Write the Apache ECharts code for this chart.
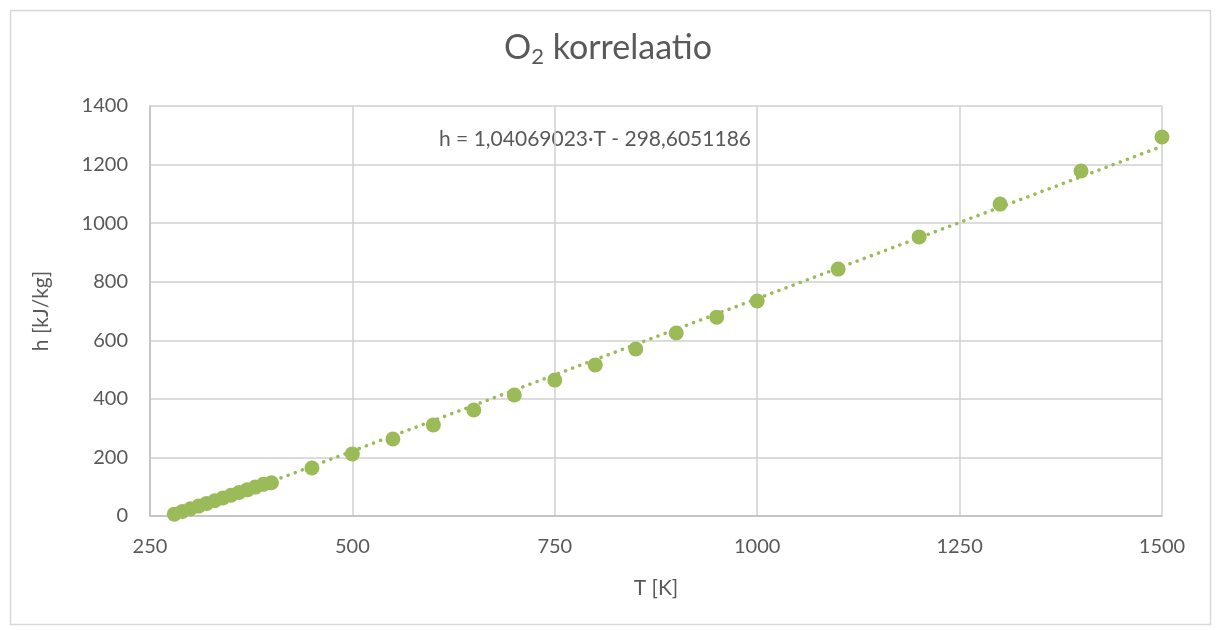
<!DOCTYPE html>
<html><head><meta charset="utf-8">
<script src="https://cdn.jsdelivr.net/npm/echarts@6/dist/echarts.min.js"></script>
<style>html,body{margin:0;padding:0;background:#fff}#c{width:1216px;height:630px}</style>
</head><body><div id="c"></div>
<script>
const temperatures = [280,290,300,310,320,330,340,350,360,370,380,390,400,450,500,550,600,650,700,750,800,850,900,950,1000,1100,1200,1300,1400,1500];
const enthalpies = [6.3,15.5,24.6,33.8,43.0,52.2,61.5,70.7,80.0,89.3,98.6,108.0,113.5,164,212,263,311,362,413,464,516,570,625,679,734,843,953,1065,1178,1294];
const trendSlope = 1.04069023;
const trendIntercept = -298.6051186;
const trendRange = [280, 1500];
const xTicks = [250, 500, 750, 1000, 1250, 1500];
const yTicks = [0, 200, 400, 600, 800, 1000, 1200, 1400];
const equationText = 'h = 1,04069023·T - 298,6051186';

const points = temperatures.map((t, i) => [t, enthalpies[i]]);
const trend = trendRange.map(t => [t, trendSlope * t + trendIntercept]);
const font = 'Lato, "Open Sans", sans-serif';
const chart = echarts.init(document.getElementById('c'));
chart.setOption({
  animation: false,
  graphic: [{
    type: 'rect', left: 8, top: 8, shape: {width: 1200, height: 614},
    style: {fill: 'none', stroke: '#d9d9d9', lineWidth: 1.5}, silent: true
  }, {
    type: 'text', left: 'center', top: 31,
    style: {
      text: '{a|O}{b|2}{a| korrelaatio}',
      rich: {
        a: {fontSize: 34, fill: '#595959', fontFamily: font},
        b: {fontSize: 22, fill: '#595959', fontFamily: font, padding: [18, 0, 0, 0]}
      }
    }
  }, {
    type: 'text', left: 439, top: 129,
    style: {text: equationText, fontSize: 21, fill: '#595959', fontFamily: font}
  }],
  grid: {left: 150, right: 54, top: 106, bottom: 114},
  xAxis: {
    type: 'value', min: 250, max: 1500, interval: 250,
    name: 'T [K]', nameLocation: 'middle', nameGap: 62,
    nameTextStyle: {fontSize: 21, color: '#595959', fontFamily: font},
    axisLine: {show: true, lineStyle: {color: '#bfbfbf', width: 1.5}},
    axisTick: {show: false},
    axisLabel: {fontSize: 20, color: '#595959', fontFamily: font, margin: 21,
      formatter: v => String(v)},
    splitLine: {show: true, lineStyle: {color: '#d0d0d0', width: 1.5}}
  },
  yAxis: {
    type: 'value', min: 0, max: 1400, interval: 200,
    name: 'h [kJ/kg]', nameLocation: 'middle', nameGap: 98, nameRotate: 90,
    nameTextStyle: {fontSize: 21, color: '#595959', fontFamily: font},
    axisLine: {show: true, lineStyle: {color: '#bfbfbf', width: 1.5}},
    axisTick: {show: false},
    axisLabel: {fontSize: 20, color: '#595959', fontFamily: font, margin: 22,
      formatter: v => String(v)},
    splitLine: {show: true, lineStyle: {color: '#d0d0d0', width: 1.5}}
  },
  series: [{
    type: 'line', data: trend, symbol: 'none', clip: true, z: 2,
    lineStyle: {color: '#9bbb59', width: 3.5, type: [0.1, 7.5], cap: 'round'}
  }, {
    type: 'scatter', data: points, symbol: 'circle', symbolSize: 15, z: 3,
    itemStyle: {color: '#9bbb59', opacity: 1}
  }]
});
</script></body></html>
